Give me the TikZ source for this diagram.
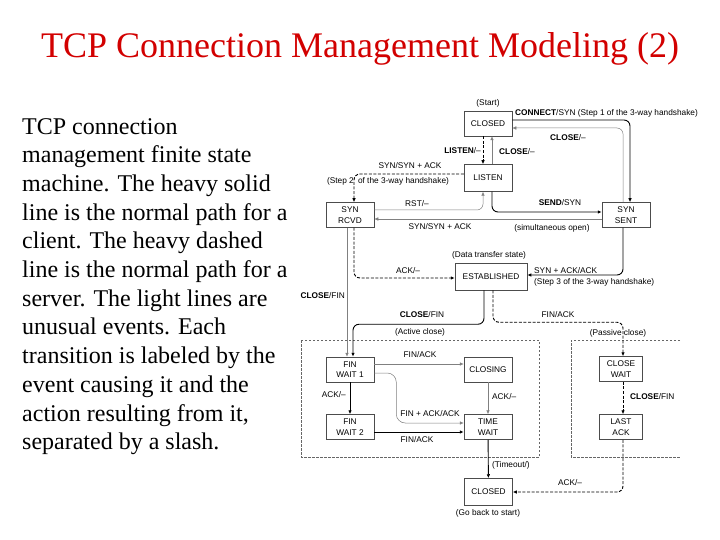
\documentclass[tikz,border=0pt]{standalone}
\usepackage{fontspec}
\setmainfont{Liberation Serif}
\setsansfont{Liberation Sans}
\usetikzlibrary{arrows.meta,positioning,calc}
\definecolor{titlered}{RGB}{210,0,0}
\newcommand{\diagfont}{\sffamily\fontsize{8.3}{10.5}\selectfont}

\begin{document}
\begin{tikzpicture}[x=1pt,y=-1pt,
  state/.style={draw=black!70, line width=0.5pt, minimum width=48pt, minimum height=25pt, inner sep=1pt, align=center, font=\diagfont},
  lbl/.style={font=\diagfont, inner sep=1pt},
  heavy/.style={line width=0.9pt, -{Latex[length=4pt,width=3.5pt]}, rounded corners=6pt},
  heavydash/.style={heavy, dash pattern=on 3pt off 1.6pt},
  light/.style={line width=0.5pt, draw=black!50, -{Latex[length=4pt,width=3.5pt]}, rounded corners=6pt},
  region/.style={draw=black!60, line width=0.5pt, dash pattern=on 2.5pt off 1.5pt}]
\useasboundingbox (0,0) rectangle (720,540);

% title and description
\node[font=\fontsize{36}{40}\selectfont, text=titlered, anchor=base] (title) at (360,58) {TCP Connection Management Modeling (2)};
\node[anchor=north west, align=left, inner sep=0, font=\fontsize{24}{28.7}\selectfont] (desc) at (22,118)
  {TCP connection\\management finite state\\machine.  The heavy solid\\line is the normal path for a\\client.  The heavy dashed\\line is the normal path for a\\server.  The light lines are\\unusual events.  Each\\transition is labeled by the\\event causing it and the\\action resulting from it,\\separated by a slash.};

% close regions
\draw[region] (301,340) rectangle (539,457);
\draw[region] (680,340) -- (571,340) -- (571,457) -- (680,457);

% states
\node[state] (closedA) at (488,123.5) {CLOSED};
\node[lbl] (start) at (488,103) {(Start)};
\node[state, minimum height=27pt] (listen) at (488,178) {LISTEN};
\node[state] (synrcvd) at (350,215) {SYN\\RCVD};
\node[state] (synsent) at (626,215) {SYN\\SENT};
\node[state, minimum width=72pt, minimum height=27pt] (estab) at (491,276.5) {ESTABLISHED};
\node[lbl] (datastate) at (489,255) {(Data transfer state)};
\node[state] (finwaitA) at (350,369.5) {FIN\\WAIT 1};
\node[state] (closing) at (488,369.5) {CLOSING};
\node[state] (finwaitB) at (350,427) {FIN\\WAIT 2};
\node[state] (timewait) at (488,427) {TIME\\WAIT};
\node[state, minimum width=43pt] (closewait) at (621,369) {CLOSE\\WAIT};
\node[state, minimum width=43pt] (lastack) at (621,427) {LAST\\ACK};
\node[state, minimum height=27pt] (closedB) at (488.5,492) {CLOSED};
\node[lbl] (goback) at (488,513) {(Go back to start)};

% opening
\draw[heavy] ([yshift=3.5pt]closedA.east) -| ([xshift=4pt]synsent.north);
\node[lbl, anchor=west] (lconnect) at (514,113) {\textbf{CONNECT}/SYN (Step 1 of the 3-way handshake)};
\draw[light] ([xshift=-3pt]synsent.north) |- ([yshift=-4.5pt]closedA.east);
\node[lbl] (lclosea) at (568,138) {\textbf{CLOSE}/–};
\draw[heavydash] ([xshift=-5pt]closedA.south) -- ([xshift=-5pt]listen.north);
\node[lbl, anchor=east] (llisten) at (482,151) {\textbf{LISTEN}/–};
\draw[light] ([xshift=4pt]listen.north) -- ([xshift=4pt]closedA.south);
\node[lbl, anchor=west] (lcloseb) at (498,152) {\textbf{CLOSE}/–};
\draw[heavydash] ([yshift=4pt]listen.west) -| ([xshift=4pt]synrcvd.north);
\node[lbl] (lsyna) at (410,166) {SYN/SYN + ACK};
\node[lbl] (lstepb) at (388,181) {(Step 2\enspace of the 3-way handshake)};
\draw[light] ([yshift=5pt]synrcvd.east) -| ([xshift=-5pt]listen.south);
\node[lbl] (lrst) at (417,204) {RST/–};
\draw[heavy] ([xshift=4pt]listen.south) |- ([yshift=3pt]synsent.west);
\node[lbl] (lsend) at (560,203) {\textbf{SEND}/SYN};
\draw[light] ([yshift=-4pt]synsent.west) -- ([yshift=-4pt]synrcvd.east);
\node[lbl] (lsynb) at (440,227) {SYN/SYN + ACK};
\node[lbl] (lsimul) at (552,228) {(simultaneous open)};
\draw[heavydash] ([xshift=4pt]synrcvd.south) |- ([yshift=-1.5pt]estab.west);
\node[lbl] (lacka) at (408,271) {ACK/–};
\draw[heavy] ([xshift=-3pt]synsent.south) |- ([yshift=1.5pt]estab.east);
\node[lbl, anchor=west] (lsynack) at (533,271) {SYN + ACK/ACK};
\node[lbl, anchor=west] (lstepc) at (533,282) {(Step 3 of the 3-way handshake)};

% closing
\draw[light] ([xshift=-3pt]synrcvd.south) -- ([xshift=-3pt]finwaitA.north);
\node[lbl, anchor=east] (lclosec) at (346,296) {\textbf{CLOSE}/FIN};
\draw[heavy] ([xshift=-7pt]estab.south) -- ++(0,34) -| ([xshift=3pt]finwaitA.north);
\node[lbl] (lclosed) at (422,315) {\textbf{CLOSE}/FIN};
\node[lbl] (lactive) at (420,332) {(Active close)};
\draw[heavydash] ([xshift=2pt]estab.south) -- ++(0,32) -| ([xshift=2pt]closewait.north);
\node[lbl] (lfina) at (558,315) {FIN/ACK};
\node[lbl] (lpassive) at (618,333) {(Passive close)};
\draw[light] ([yshift=5.5pt]finwaitA.east) -- ([yshift=5.5pt]closing.west);
\node[lbl] (lfinb) at (420,355) {FIN/ACK};
\draw[light, rounded corners=9pt] ([yshift=-3.5pt]finwaitA.east) -- ++(22,0) |- ([yshift=4pt]timewait.west);
\node[lbl] (lfinack) at (430,414) {FIN + ACK/ACK};
\draw[heavy] (finwaitA) -- (finwaitB);
\node[lbl, anchor=east] (lackb) at (347,395) {ACK/–};
\draw[light] (closing) -- (timewait);
\node[lbl, anchor=west] (lackc) at (491,397) {ACK/–};
\draw[heavy] ([yshift=-5pt]finwaitB.east) -- ([yshift=-5pt]timewait.west);
\node[lbl] (lfinc) at (417,440) {FIN/ACK};
\draw[heavydash] ([xshift=2pt]closewait.south) -- ([xshift=2pt]lastack.north);
\node[lbl, anchor=west] (lclosee) at (629,397) {\textbf{CLOSE}/FIN};
\draw[heavy] (timewait) -- (closedB);
\node[lbl, anchor=west] (ltimeout) at (491,465) {(Timeout/)};
\draw[heavydash] ([xshift=2pt]lastack.south) |- (closedB.east);
\node[lbl] (lackd) at (570,483) {ACK/–};
\end{tikzpicture}
\end{document}
